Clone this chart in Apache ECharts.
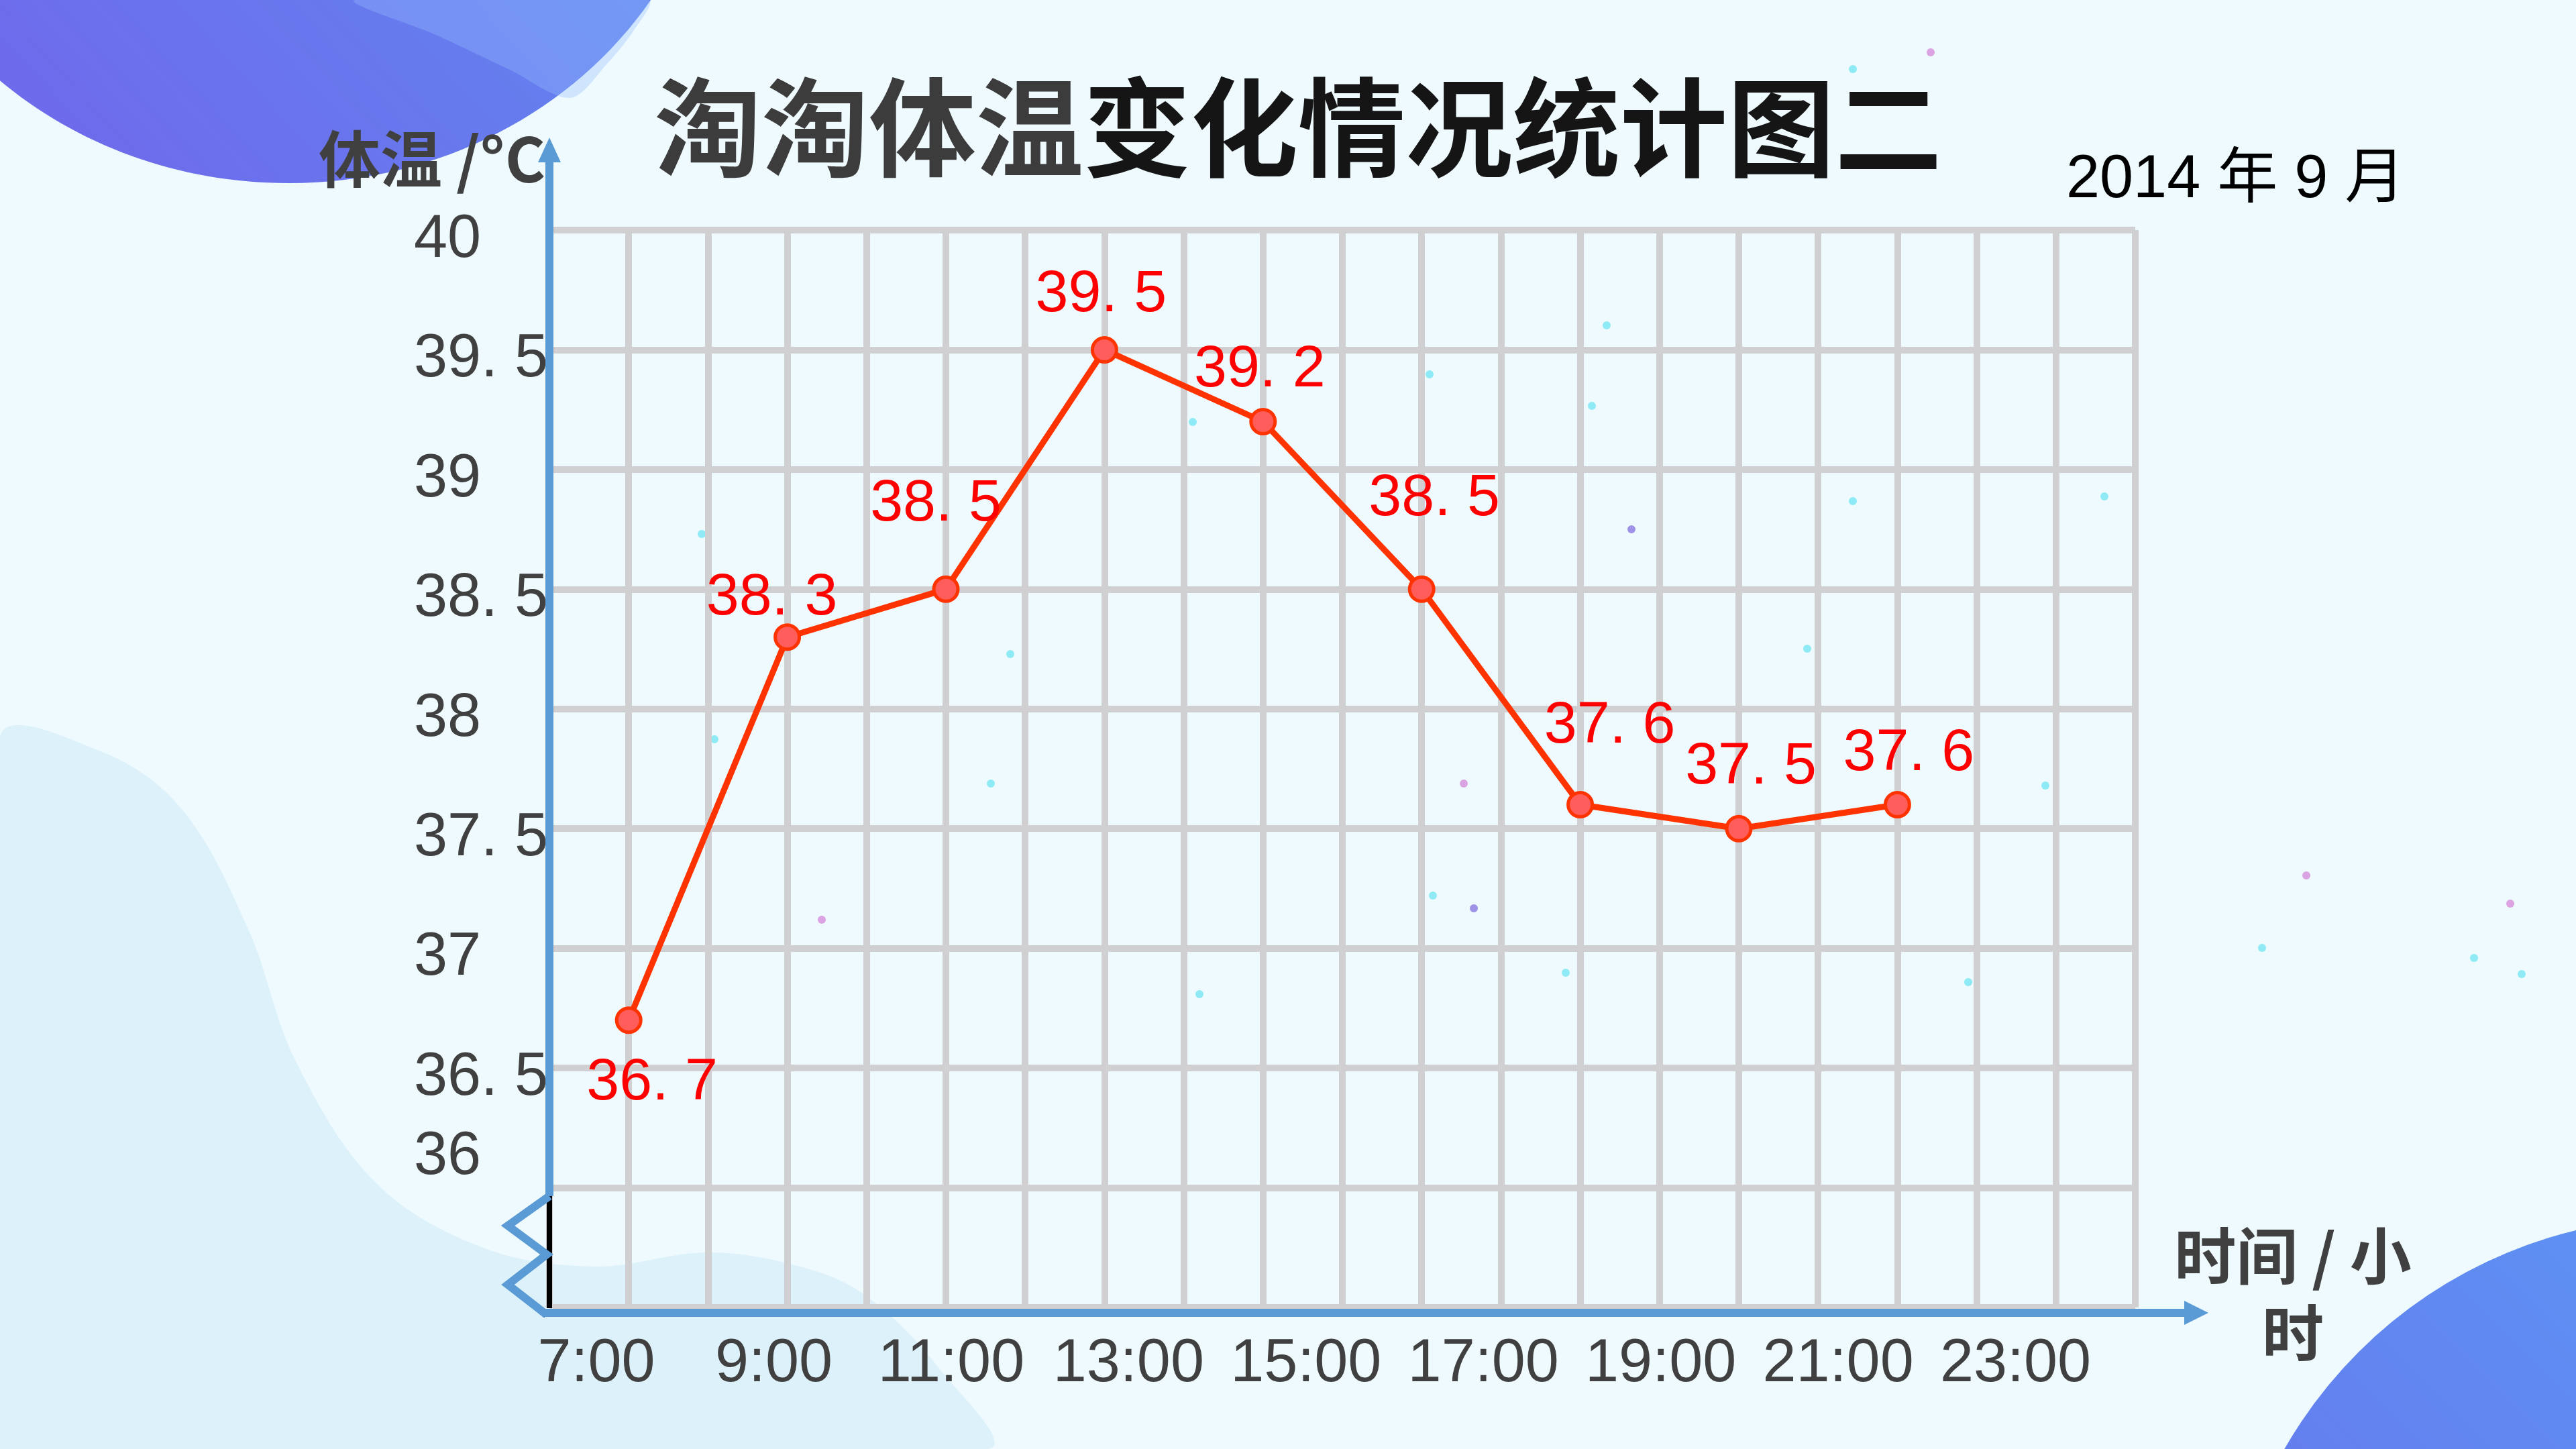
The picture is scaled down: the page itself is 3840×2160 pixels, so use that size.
<!DOCTYPE html>
<html>
<head>
<meta charset="utf-8">
<title>淘淘体温变化情况统计图二</title>
<script src="https://cdn.jsdelivr.net/npm/echarts@6/dist/echarts.min.js"></script>
<style>
  html, body { margin: 0; padding: 0; background: #eefafd; }
  #chart { width: 3840px; height: 2160px; }
</style>
</head>
<body>
<div id="chart"></div>
<script>
  // 时间（小时）和体温
  var hours = [7, 9, 11, 13, 15, 17, 19, 21, 23]
  var timeLabels = ['7:00', '9:00', '11:00', '13:00', '15:00', '17:00', '19:00', '21:00', '23:00']
  var temps = [36.7, 38.3, 38.5, 39.5, 39.2, 38.5, 37.6, 37.5, 37.6]
  var tempTicks = [36, 36.5, 37, 37.5, 38, 38.5, 39, 39.5, 40]

  // 数据标签相对圆点的偏移
  var labelOffsets = [[35, 94], [-23, -58], [-15, -127], [-5, -82], [-5, -77], [19, -135], [44, -117], [18, -91], [17, -76]]

  var blue = '#5b9bd5'
  var gridColor = '#d0cfd1'
  var textColor = '#404040'

  // 背景上的小点
  var dots = [
    [2762, 103, '#8eeaf4'], [2762, 747, '#8eeaf4'], [3137, 740, '#8eeaf4'], [2694, 967, '#8eeaf4'],
    [2136, 1335, '#8eeaf4'], [3372, 1413, '#8eeaf4'], [3688, 1428, '#8eeaf4'], [3759, 1452, '#8eeaf4'],
    [2934, 1464, '#8eeaf4'], [1788, 1482, '#8eeaf4'], [1065, 1102, '#8eeaf4'], [1477, 1168, '#8eeaf4'],
    [1506, 975, '#8eeaf4'], [1046, 796, '#8eeaf4'], [2395, 485, '#8eeaf4'], [2373, 605, '#8eeaf4'],
    [2131, 558, '#8eeaf4'], [1778, 629, '#8eeaf4'], [3049, 1171, '#8eeaf4'], [2334, 1450, '#8eeaf4'],
    [2878, 78, '#dba3e2'], [2182, 1168, '#dba3e2'], [3438, 1305, '#dba3e2'], [3742, 1347, '#dba3e2'],
    [1225, 1371, '#dba3e2'], [2432, 789, '#9d92e8'], [2197, 1354, '#9d92e8']
  ]

  var chart = echarts.init(document.getElementById('chart'))

  var seriesData = hours.map(function (h, i) {
    return {
      value: [h, temps[i]],
      label: { offset: labelOffsets[i] }
    }
  })

  var graphics = [
    { // 左下浅色波浪
      type: 'polygon',
      z: -10,
      shape: {
        smooth: 0.35,
        points: [[0, 1100], [150, 1120], [270, 1205], [370, 1385], [440, 1580], [560, 1763], [720, 1860],
          [887, 1888], [1056, 1867], [1200, 1890], [1293, 1933], [1400, 2040], [1471, 2160], [0, 2160]]
      },
      style: { fill: '#dcf1fa' }
    },
    { // 左上圆
      type: 'ellipse',
      z: -9,
      shape: { cx: 430, cy: -316, rx: 640, ry: 589 },
      style: {
        fill: new echarts.graphic.LinearGradient(0, 1, 1, 0, [
          { offset: 0, color: '#7262ea' },
          { offset: 0.6, color: '#6284ef' },
          { offset: 1, color: '#6a8ff2' }
        ])
      }
    },
    {
      type: 'polygon',
      z: -8,
      shape: { smooth: 0.3, points: [[530, 0], [650, 52], [760, 104], [850, 146], [905, 95], [945, 45], [966, 0]] },
      style: { fill: 'rgba(150,190,255,0.35)' }
    },
    { // 右下圆
      type: 'circle',
      z: -9,
      shape: { cx: 4000, cy: 2500, r: 685 },
      style: {
        fill: new echarts.graphic.LinearGradient(1, 0, 0, 1, [
          { offset: 0, color: '#58a4f8' },
          { offset: 1, color: '#6c66e8' }
        ])
      }
    },
    { // 标题
      type: 'text',
      z: 5,
      x: 1935,
      y: 190,
      style: {
        text: '{a|淘淘体温}{b|变化情况统计图二}',
        align: 'center',
        verticalAlign: 'middle',
        rich: {
          a: { fontSize: 160, fontWeight: 'bold', fontFamily: 'Noto Sans CJK SC', fill: '#3c3c3c' },
          b: { fontSize: 160, fontWeight: 'bold', fontFamily: 'Noto Sans CJK SC', fill: '#151515' }
        }
      }
    },
    {
      type: 'text',
      z: 5,
      x: 3080,
      y: 269,
      style: {
        text: '2014 年 9 月',
        align: 'left',
        verticalAlign: 'middle',
        fontSize: 90,
        fontFamily: 'Liberation Sans, Noto Sans CJK SC',
        fill: '#000'
      }
    },
    { // 横轴名称
      type: 'text',
      z: 5,
      x: 3418,
      y: 1930,
      style: {
        text: '时间 / 小\n时',
        align: 'center',
        verticalAlign: 'middle',
        lineHeight: 115,
        fontSize: 92,
        fontWeight: 'bold',
        fontFamily: 'Noto Sans CJK SC',
        fill: textColor
      }
    },
    { // 纵轴
      type: 'polyline',
      z: 3,
      shape: { points: [[819, 1783], [819, 238]] },
      style: { stroke: blue, lineWidth: 12, fill: null }
    },
    {
      type: 'polygon',
      z: 3,
      shape: { points: [[819, 205], [802, 242], [836, 242]] },
      style: { fill: blue }
    },
    { // 横轴
      type: 'polyline',
      z: 3,
      shape: { points: [[813, 1957], [3260, 1957]] },
      style: { stroke: blue, lineWidth: 12, fill: null }
    },
    {
      type: 'polygon',
      z: 3,
      shape: { points: [[3292, 1957], [3256, 1939], [3256, 1975]] },
      style: { fill: blue }
    },
    { // 折断符号
      type: 'polyline',
      z: 3,
      shape: { points: [[819, 1950], [819, 1783]] },
      style: { stroke: '#000', lineWidth: 8, fill: null }
    },
    {
      type: 'polyline',
      z: 3,
      shape: { points: [[819, 1783], [757, 1827], [815, 1870], [757, 1915], [815, 1960]] },
      style: { stroke: blue, lineWidth: 12, fill: null, lineJoin: 'miter' }
    }
  ]

  dots.forEach(function (d) {
    graphics.push({
      type: 'circle',
      z: -5,
      shape: { cx: d[0], cy: d[1], r: 6 },
      style: { fill: d[2] }
    })
  })

  var option = {
    backgroundColor: '#eefafd',
    animation: false,
    grid: {
      left: 819,
      right: 657,
      top: 343,
      bottom: 211
    },
    xAxis: [
      {
        type: 'value',
        min: 6,
        max: 26,
        interval: 1,
        axisLine: { show: false },
        axisTick: { show: false },
        axisLabel: { show: false },
        splitLine: {
          show: true,
          lineStyle: { color: gridColor, width: 10 }
        }
      },
      { // 只用来放时间标签
        type: 'value',
        position: 'bottom',
        min: 6.47,
        max: 24.35,
        axisLine: { show: false },
        axisTick: { show: false },
        splitLine: { show: false },
        axisLabel: {
          customValues: hours,
          margin: 40,
          fontSize: 90,
          lineHeight: 90,
          color: textColor,
          fontFamily: 'Liberation Sans',
          formatter: function (v) {
            var i = hours.indexOf(v)
            return i >= 0 ? timeLabels[i] : ''
          }
        }
      }
    ],
    yAxis: {
      type: 'value',
      min: 35.5,
      max: 40,
      interval: 0.5,
      axisLine: { show: false },
      axisTick: { show: false },
      splitLine: {
        show: true,
        lineStyle: { color: gridColor, width: 10 }
      },
      axisLabel: {
        align: 'left',
        verticalAlign: 'middle',
        lineHeight: 30,
        margin: 202,
        fontSize: 90,
        color: textColor,
        fontFamily: 'Liberation Sans',
        formatter: function (v) {
          if (tempTicks.indexOf(v) < 0) return ''
          // 36 的标签在原图里偏上，其余略偏下
          if (v === 36) return '36\n\n\n'
          return '\n' + String(v).replace('.', '. ')
        }
      },
      name: '体温 /°C',
      nameLocation: 'end',
      nameGap: 80,
      nameTextStyle: {
        fontSize: 92,
        fontWeight: 'bold',
        fontFamily: 'Noto Sans CJK SC',
        color: textColor,
        align: 'right',
        verticalAlign: 'middle',
        padding: [0, 6, 0, 0]
      }
    },
    series: [{
      type: 'line',
      xAxisIndex: 0,
      data: seriesData,
      symbol: 'circle',
      symbolSize: 36,
      z: 5,
      lineStyle: { color: '#ff3300', width: 9 },
      itemStyle: { color: '#ff5c5c', borderColor: '#ff3300', borderWidth: 5 },
      label: {
        show: true,
        position: 'inside',
        align: 'center',
        verticalAlign: 'middle',
        color: '#ff0000',
        fontSize: 88,
        fontFamily: 'Liberation Sans',
        formatter: function (p) {
          return String(p.value[1]).replace('.', '. ')
        }
      }
    }],
    graphic: graphics
  }

  chart.setOption(option)
</script>
</body>
</html>
